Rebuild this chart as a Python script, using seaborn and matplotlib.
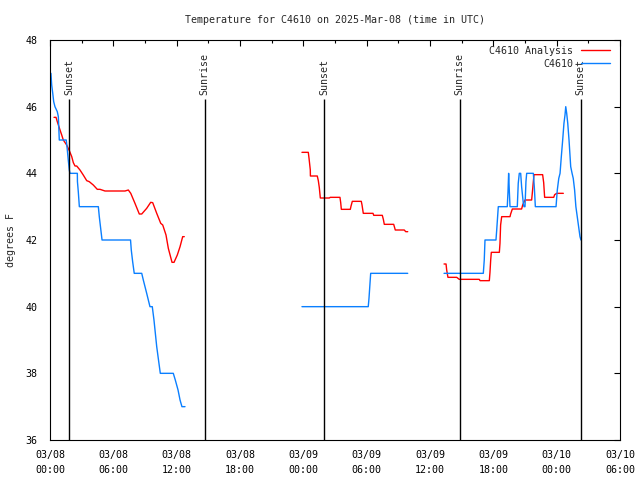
import pandas as pd
import matplotlib
matplotlib.use('Agg')
import matplotlib.pyplot as plt
import seaborn as sns
from matplotlib.ticker import MultipleLocator

# horas desde 03/08 00:00 UTC
obs_t1 = [0.0, 0.09, 0.16, 0.26, 0.35, 0.47, 0.69, 0.79, 0.88, 1.42, 1.54, 1.64, 1.73, 1.83,
          1.89, 2.59, 2.6, 2.68, 2.78, 4.58, 4.67, 4.8, 4.93, 7.63, 7.7, 7.83, 7.98, 8.69,
          8.84, 9.16, 9.47, 9.69, 9.85, 10.11, 10.3, 10.45, 11.68, 11.87, 12.13, 12.32, 12.5, 12.79]
obs_v1 = [47.0, 47.0, 46.65, 46.4, 46.15, 46.0, 45.85, 45.7, 45.0, 45.0, 45.0, 44.7, 44.4, 44.1,
          44.0, 44.0, 43.75, 43.45, 43.0, 43.0, 42.7, 42.35, 42.0, 42.0, 41.7, 41.35, 41.0, 41.0,
          40.8, 40.4, 40.0, 40.0, 39.6, 38.8, 38.35, 38.0, 38.0, 37.8, 37.5, 37.2, 37.0, 37.0]
obs_t2 = [23.87, 30.15, 30.22, 30.32, 30.38, 33.89]
obs_v2 = [40.0, 40.0, 40.25, 40.72, 41.0, 41.0]
obs_t3 = [37.33, 41.05, 41.14, 41.21, 42.25, 42.32, 42.47, 43.32, 43.39, 43.45, 43.51, 43.58,
          44.27, 44.36, 44.46, 44.59, 44.68, 44.84, 44.9, 45.0, 45.09, 45.16, 45.79, 45.88,
          45.98, 47.94, 48.06, 48.2, 48.32, 48.44, 48.57, 48.69, 48.79, 48.86, 48.95, 49.05,
          49.17, 49.33, 49.46, 49.57, 49.7, 49.82, 49.95, 50.08, 50.21, 50.3]
obs_v3 = [41.0, 41.0, 41.4, 42.0, 42.0, 42.3, 43.0, 43.0, 43.45, 44.0, 43.5, 43.0,
          43.0, 43.7, 44.0, 44.0, 43.6, 43.1, 43.0, 43.0, 43.75, 44.0, 44.0, 43.6,
          43.0, 43.0, 43.5, 43.85, 44.0, 44.5, 45.0, 45.5, 45.75, 46.0, 45.8, 45.5,
          45.0, 44.2, 44.0, 43.85, 43.5, 43.0, 42.7, 42.4, 42.1, 42.0]

ana_t1 = [0.38, 0.57, 0.69, 0.95, 1.11, 1.26, 1.58, 1.83, 2.06, 2.21, 2.37, 2.53, 2.84, 3.15,
          3.48, 3.72, 4.1, 4.48, 4.74, 5.21, 7.11, 7.42, 7.65, 8.05, 8.46, 8.69, 9.16, 9.54,
          9.73, 10.11, 10.49, 10.68, 10.99, 11.21, 11.56, 11.75, 12.06, 12.32, 12.57, 12.72]
ana_v1 = [45.68, 45.68, 45.55, 45.3, 45.15, 45.0, 44.85, 44.68, 44.5, 44.32, 44.22, 44.22, 44.1, 43.95,
          43.78, 43.75, 43.65, 43.52, 43.52, 43.47, 43.47, 43.5, 43.4, 43.1, 42.78, 42.78, 42.95, 43.13,
          43.12, 42.8, 42.5, 42.45, 42.15, 41.75, 41.33, 41.33, 41.55, 41.8, 42.1, 42.1]
ana_t2 = [23.87, 24.47, 24.54, 24.66, 24.67, 25.32, 25.42, 25.51, 25.61, 26.46, 26.55, 27.47,
          27.54, 27.6, 28.45, 28.52, 28.64, 29.49, 29.56, 29.68, 30.6, 30.67, 31.48, 31.58,
          31.67, 32.56, 32.65, 32.71, 33.56, 33.7, 33.89]
ana_v2 = [44.63, 44.63, 44.45, 44.1, 43.92, 43.92, 43.78, 43.58, 43.26, 43.26, 43.28, 43.28,
          43.12, 42.92, 42.92, 43.02, 43.16, 43.16, 43.05, 42.8, 42.8, 42.74, 42.74, 42.62,
          42.47, 42.47, 42.37, 42.3, 42.3, 42.25, 42.25]
ana_t3 = [37.33, 37.52, 37.58, 37.7, 38.53, 38.77, 40.67, 40.74, 41.62, 41.68, 41.75, 41.81,
          42.57, 42.63, 42.69, 42.79, 43.58, 43.64, 43.8, 44.68, 44.78, 45.0, 45.63, 45.69,
          45.85, 46.67, 46.77, 46.86, 47.72, 47.81, 48.0, 48.63]
ana_v3 = [41.28, 41.28, 41.1, 40.88, 40.88, 40.82, 40.82, 40.78, 40.78, 41.02, 41.4, 41.63,
          41.63, 41.9, 42.45, 42.7, 42.7, 42.78, 42.93, 42.93, 43.05, 43.2, 43.2, 43.4,
          43.96, 43.96, 43.72, 43.28, 43.28, 43.36, 43.4, 43.4]

sun_t = [1.83, 14.64, 25.98, 38.8, 50.26]
sun_lab = ['Sunset', 'Sunrise', 'Sunset', 'Sunrise', 'Sunset']

xticks = [0, 6, 12, 18, 24, 30, 36, 42, 48, 54]
xlabels = ['03/08\n00:00', '03/08\n06:00', '03/08\n12:00', '03/08\n18:00', '03/09\n00:00',
           '03/09\n06:00', '03/09\n12:00', '03/09\n18:00', '03/10\n00:00', '03/10\n06:00']

# armar dataframe
partes = []
for serie, segs in [('C4610 Analysis', [(ana_t1, ana_v1), (ana_t2, ana_v2), (ana_t3, ana_v3)]),
                    ('C4610', [(obs_t1, obs_v1), (obs_t2, obs_v2), (obs_t3, obs_v3)])]:
    for k, (t, v) in enumerate(segs):
        partes.append(pd.DataFrame({'t': t, 'temp': v, 'serie': serie, 'seg': f'{serie}_{k}'}))
df = pd.concat(partes, ignore_index=True)

sns.set_theme(style='white')
plt.rcParams['font.family'] = ['DejaVu Sans Mono']
plt.rcParams['font.size'] = 7

fig = plt.figure(figsize=(6.4, 4.8), dpi=100)
ax = fig.add_axes([50/640, 40/480, 570/640, 400/480])

sns.lineplot(data=df, x='t', y='temp', hue='serie', units='seg', estimator=None,
             palette={'C4610 Analysis': '#ff0000', 'C4610': '#0a7fff'},
             linewidth=1.0, ax=ax, sort=False)

for t, lab in zip(sun_t, sun_lab):
    ax.vlines(t, 36, 46.22, color='black', linewidth=1.0)
    ax.text(t, 46.35, lab, rotation=90, ha='center', va='bottom', fontsize=7.2)

ax.set_xlim(0, 54)
ax.set_ylim(36, 48)
ax.set_xticks(xticks)
ax.set_xticklabels(xlabels, linespacing=1.65)
ax.xaxis.set_minor_locator(MultipleLocator(3))
ax.yaxis.set_major_locator(MultipleLocator(2))
ax.tick_params(which='both', direction='in', top=True, right=True, colors='black', labelsize=7.2)
ax.tick_params(which='major', length=4.5, width=0.8)
ax.tick_params(which='minor', length=2.5, width=0.8)
ax.tick_params(axis='x', pad=7)
ax.tick_params(axis='y', pad=9)
for s in ax.spines.values():
    s.set_color('black')
    s.set_linewidth(0.8)

ax.set_xlabel('')
ax.set_ylabel('degrees F', fontsize=7.2)
ax.yaxis.set_label_coords(-0.06, 0.5)
ax.set_title('Temperature for C4610 on 2025-Mar-08 (time in UTC)', fontsize=7.2, pad=12)

ax.legend(loc='upper right', bbox_to_anchor=(0.982, 0.985), frameon=False, markerfirst=False,
          fontsize=7.2, handlelength=2.9, handletextpad=0.75, labelspacing=0.3,
          borderpad=0, borderaxespad=0)

plt.savefig('out.png', dpi=100, facecolor='white')
plt.close()
